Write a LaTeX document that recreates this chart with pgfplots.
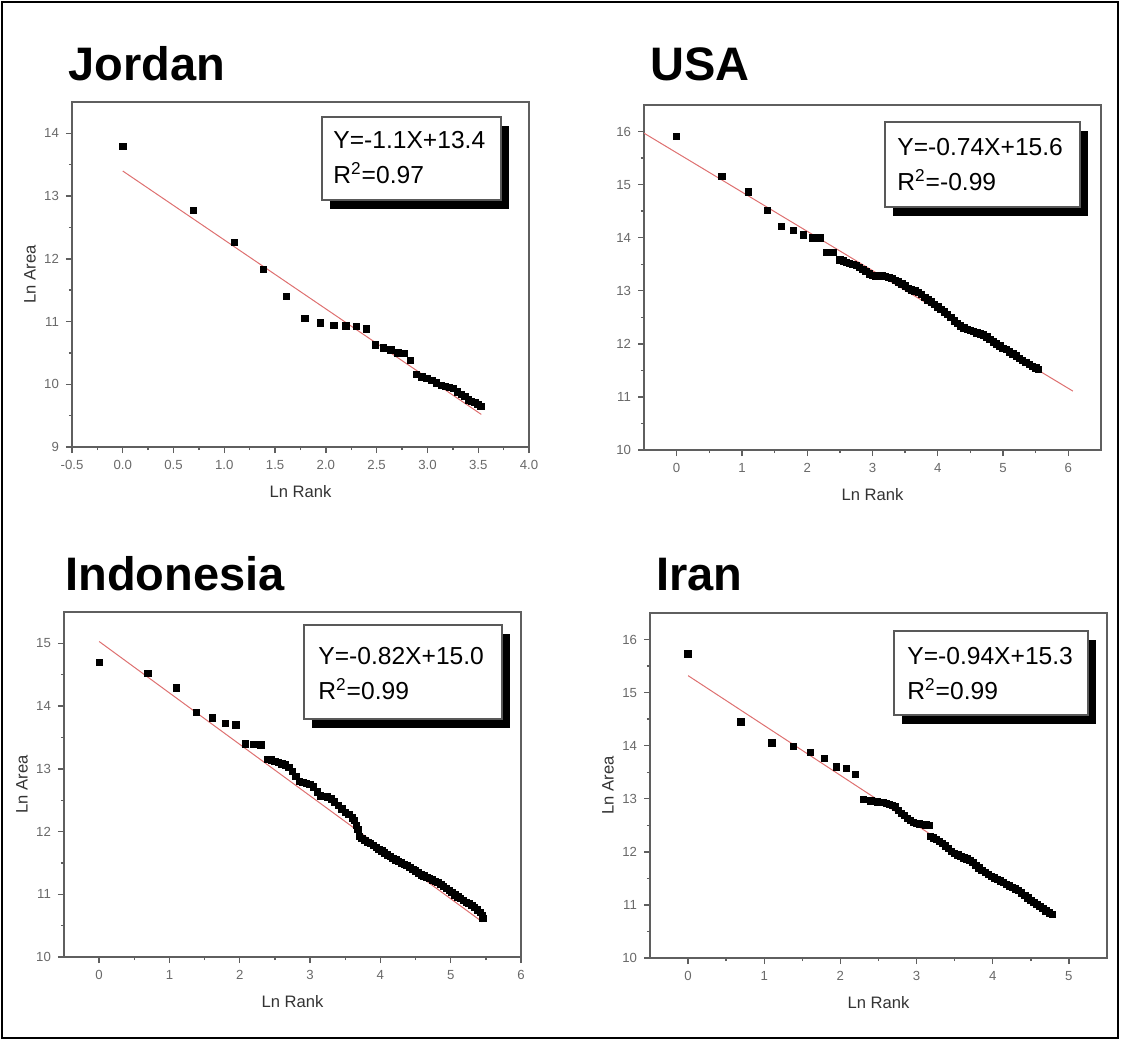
\documentclass[border=0pt]{standalone}
\usepackage{fontspec}
\setmainfont{Liberation Sans}
\usepackage{pgfplots}
\pgfplotsset{compat=1.18}

\definecolor{fitred}{RGB}{222,112,112}
\definecolor{axisgray}{RGB}{95,95,95}
\definecolor{ticklab}{RGB}{105,105,105}

\pgfplotsset{
  rank/.style={
    scale only axis, width=228.5pt, height=172.5pt,
    axis line style={axisgray, line width=0.9pt},
    tick align=outside, tick pos=left,
    major tick length=3pt, minor tick length=1.6pt,
    tick style={axisgray, line width=0.7pt},
    minor tick num=1,
    tick label style={font=\fontsize{6.6}{7}\selectfont, text=ticklab},
    label style={font=\fontsize{8.3}{9}\selectfont, text=black!80},
    /pgf/number format/assume math mode=true,
    xlabel={Ln Rank},
    xlabel style={at={(axis description cs:0.5,-0.128)}, anchor=center},
    ylabel style={at={(axis description cs:-0.092,0.5)}, anchor=center},
  },
  pts/.style={only marks, mark=square*, mark size=1.6pt,
    mark options={fill=black, draw=black}},
  fit/.style={fitred, line width=0.5pt, no marks},
}

\newcommand{\eqbox}[9]{%
  % #1,#2 box top-left; #3,#4 box bottom-right; #5 text x; #6,#7 baselines; #8 line1; #9 line2
  \fill[black] (#1+8,#2+9) rectangle (#3+8,#4+9);
  \draw[fill=white, draw=black!65, line width=0.6pt] (#1,#2) rectangle (#3,#4);
  \node[anchor=base west, inner sep=0, font=\fontsize{12.3}{13}\selectfont] at (#5,#6) {#8};
  \node[anchor=base west, inner sep=0, font=\fontsize{12.3}{13}\selectfont] at (#5,#7) {#9};
}

\begin{document}
\begin{tikzpicture}

% Jordan
\begin{axis}[rank, at={(36pt,-223.5pt)}, anchor=south west,
  xmin=-0.5, xmax=4.0, ymin=9, ymax=14.5,
  xtick={-0.5,0,0.5,1,1.5,2,2.5,3,3.5,4},
  xticklabels={-0.5,0.0,0.5,1.0,1.5,2.0,2.5,3.0,3.5,4.0},
  ytick={9,10,11,12,13,14},
  ylabel={Ln Area}]
\addplot[fit] coordinates {(0,13.40) (3.53,9.52)};
\addplot[pts] coordinates {
(0,13.79) (0.693,12.77) (1.099,12.26) (1.386,11.83) (1.609,11.40)
(1.792,11.05) (1.946,10.98) (2.079,10.94) (2.197,10.93) (2.303,10.92)
(2.398,10.88) (2.485,10.63) (2.565,10.58) (2.639,10.55) (2.708,10.50)
(2.773,10.49) (2.833,10.38) (2.890,10.16) (2.944,10.12) (2.996,10.09)
(3.045,10.06) (3.091,10.02) (3.135,9.98) (3.178,9.97) (3.219,9.95)
(3.258,9.93) (3.296,9.88) (3.332,9.84) (3.367,9.81) (3.401,9.75)
(3.434,9.73) (3.466,9.71) (3.497,9.68) (3.526,9.65)};
\end{axis}

% USA
\begin{axis}[rank, at={(322pt,-225pt)}, anchor=south west,
  xmin=-0.5, xmax=6.5, ymin=10, ymax=16.5,
  xtick={0,...,6}, ytick={10,...,16}]
\addplot[fit] coordinates {(-0.5,15.97) (6.07,11.11)};
\addplot[pts] coordinates {
(0,15.91) (0.693,15.15) (1.099,14.86) (1.386,14.51) (1.609,14.21)
(1.792,14.14) (1.946,14.05) (2.079,14.00) (2.197,14.00) (2.303,13.72)
(2.398,13.72)
(2.50,13.58) (2.55,13.56) (2.60,13.54) (2.65,13.52) (2.70,13.50)
(2.75,13.48) (2.80,13.44) (2.85,13.40) (2.90,13.36) (2.95,13.32)
(3.00,13.29) (3.05,13.28) (3.10,13.28) (3.15,13.28) (3.20,13.27)
(3.25,13.25) (3.30,13.23) (3.35,13.20) (3.40,13.17) (3.45,13.13)
(3.50,13.09) (3.55,13.05) (3.60,13.02) (3.65,13.00) (3.70,12.97)
(3.75,12.93) (3.80,12.88) (3.85,12.83) (3.90,12.79) (3.95,12.74)
(4.00,12.70) (4.05,12.65) (4.10,12.60) (4.15,12.55) (4.20,12.50)
(4.25,12.43) (4.30,12.38) (4.35,12.34) (4.40,12.30) (4.45,12.27)
(4.50,12.25) (4.55,12.23) (4.60,12.21) (4.65,12.19) (4.70,12.17)
(4.75,12.13) (4.80,12.08) (4.85,12.04) (4.90,12.00) (4.95,11.96)
(5.00,11.92) (5.05,11.89) (5.10,11.85) (5.15,11.81) (5.20,11.77)
(5.25,11.73) (5.30,11.69) (5.35,11.65) (5.40,11.61) (5.45,11.58)
(5.50,11.55) (5.54,11.52)};
\end{axis}

% Indonesia
\begin{axis}[rank, at={(32pt,-478.5pt)}, anchor=south west,
  xmin=-0.5, xmax=6, ymin=10, ymax=15.5,
  xtick={0,...,6}, ytick={10,...,15},
  ylabel={Ln Area}]
\addplot[fit] coordinates {(0,15.03) (5.45,10.56)};
\addplot[pts] coordinates {
(0,14.70) (0.693,14.52) (1.099,14.29) (1.386,13.90) (1.609,13.81)
(1.792,13.72) (1.946,13.70) (2.079,13.40) (2.197,13.39) (2.303,13.38)
(2.40,13.15) (2.45,13.14) (2.50,13.12) (2.55,13.10) (2.60,13.08)
(2.65,13.06) (2.70,13.02) (2.75,12.96) (2.80,12.88) (2.85,12.80)
(2.90,12.78) (2.95,12.77) (3.00,12.75) (3.05,12.71) (3.10,12.63)
(3.15,12.57) (3.20,12.56) (3.25,12.55) (3.30,12.52) (3.35,12.47)
(3.40,12.42) (3.45,12.36) (3.50,12.31) (3.55,12.27) (3.60,12.22)
(3.63,12.18) (3.66,12.10) (3.68,12.03) (3.70,11.92) (3.74,11.89)
(3.78,11.86) (3.82,11.83) (3.86,11.81) (3.90,11.78) (3.94,11.75)
(3.98,11.72) (4.02,11.69) (4.06,11.66) (4.10,11.63) (4.14,11.60)
(4.18,11.57) (4.22,11.55) (4.26,11.52) (4.30,11.50) (4.34,11.48)
(4.38,11.46) (4.42,11.43) (4.46,11.40) (4.50,11.37) (4.54,11.34)
(4.58,11.31) (4.62,11.29) (4.66,11.27) (4.70,11.25) (4.74,11.23)
(4.78,11.21) (4.82,11.19) (4.86,11.16) (4.90,11.13) (4.94,11.09)
(4.98,11.06) (5.02,11.03) (5.06,10.99) (5.10,10.96) (5.14,10.93)
(5.18,10.90) (5.22,10.87) (5.26,10.85) (5.30,10.82) (5.34,10.79)
(5.38,10.75) (5.42,10.71) (5.45,10.66) (5.46,10.62)};
\end{axis}

% Iran
\begin{axis}[rank, at={(325pt,-479pt)}, anchor=south west,
  xmin=-0.5, xmax=5.5, ymin=10, ymax=16.5,
  xtick={0,...,5}, ytick={10,...,16},
  ylabel={Ln Area}]
\addplot[fit] coordinates {(0,15.32) (4.78,10.83)};
\addplot[pts] coordinates {
(0,15.73) (0.693,14.45) (1.099,14.05) (1.386,13.99) (1.609,13.87)
(1.792,13.76) (1.946,13.60) (2.079,13.57) (2.197,13.46) (2.303,12.99)
(2.398,12.96) (2.485,12.94)
(2.56,12.93) (2.60,12.91) (2.64,12.89) (2.68,12.87) (2.72,12.85)
(2.76,12.78) (2.80,12.72) (2.84,12.69) (2.88,12.63) (2.92,12.59)
(2.96,12.56) (3.00,12.54) (3.04,12.53) (3.08,12.52) (3.12,12.51)
(3.16,12.50) (3.18,12.29) (3.22,12.26) (3.26,12.23) (3.30,12.20)
(3.34,12.16) (3.38,12.11) (3.42,12.06) (3.46,12.01) (3.50,11.97)
(3.54,11.94) (3.58,11.91) (3.62,11.89) (3.66,11.87) (3.70,11.84)
(3.74,11.80) (3.78,11.75) (3.82,11.70) (3.86,11.65) (3.90,11.61)
(3.94,11.57) (3.98,11.54) (4.02,11.51) (4.06,11.48) (4.10,11.45)
(4.14,11.42) (4.18,11.39) (4.22,11.36) (4.26,11.33) (4.30,11.30)
(4.34,11.27) (4.38,11.23) (4.42,11.18) (4.46,11.13) (4.50,11.09)
(4.54,11.05) (4.58,11.01) (4.62,10.97) (4.66,10.93) (4.70,10.89)
(4.74,10.85) (4.78,10.82)};
\end{axis}

% frame, titles and equation boxes, in image pixels
\begin{scope}[x=0.5pt, y=-0.5pt]
\useasboundingbox (0,0) rectangle (1121,1041);
\draw[black, line width=1pt] (2,2) rectangle (1118,1038);
\begin{scope}[every node/.style={anchor=base west, inner sep=0,
    font=\fontsize{23.5}{25}\selectfont\bfseries}]
\node at (68,80) {Jordan};
\node at (650,80) {USA};
\node at (65,590) {Indonesia};
\node at (656,590) {Iran};
\end{scope}
\eqbox{322}{117}{501}{200}{333}{148}{183}{Y=-1.1X+13.4}{R\textsuperscript{2}=0.97}
\eqbox{885}{122}{1080}{207}{897}{155}{190}{Y=-0.74X+15.6}{R\textsuperscript{2}=-0.99}
\eqbox{304}{625}{502}{719}{318}{664}{699}{Y=-0.82X+15.0}{R\textsuperscript{2}=0.99}
\eqbox{894}{631}{1088}{715}{907}{664}{699}{Y=-0.94X+15.3}{R\textsuperscript{2}=0.99}
\end{scope}

\end{tikzpicture}
\end{document}
